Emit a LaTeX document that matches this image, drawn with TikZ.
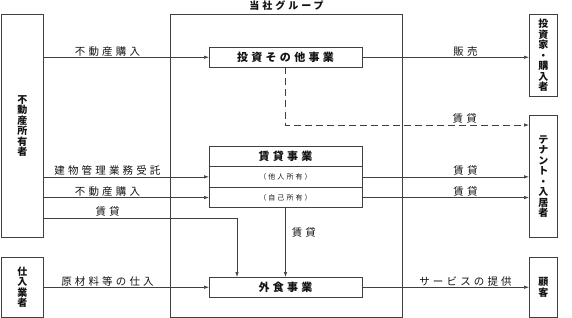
\documentclass[tikz,border=0pt]{standalone}
\usepackage{fontspec}
\setmainfont{Noto Sans CJK JP}
\newfontfamily\jpwide[LetterSpace=30]{Noto Sans CJK JP}
\usetikzlibrary{arrows.meta,calc,positioning}
\definecolor{framegrey}{RGB}{64,64,64}
\definecolor{inkblack}{RGB}{20,20,20}
\tikzset{
  party/.style={draw=framegrey,line width=0.9pt,anchor=north west,inner sep=0pt,
    minimum width=42pt,align=center,text=inkblack,
    font=\bfseries\fontsize{10}{10.5}\selectfont},
  bizbox/.style={draw=framegrey,line width=0.9pt,anchor=north west,inner sep=0pt,
    outer sep=0pt,minimum width=153pt,minimum height=20.5pt,text=inkblack,
    font=\jpwide\bfseries\fontsize{11}{12}\selectfont},
  subrow/.style={draw=framegrey,line width=0.9pt,inner sep=0pt,outer sep=0pt,
    minimum width=153pt,minimum height=20.7pt,text=inkblack,
    font=\jpwide\fontsize{7}{8}\selectfont},
  flow/.style={-{Latex[length=5pt,width=3.5pt]},line width=0.7pt,draw=framegrey},
  lease/.style={flow,dash pattern=on 7pt off 4pt},
  edgelabel/.style={font=\jpwide\fontsize{10.5}{11}\selectfont,text=inkblack,
    inner sep=1pt,above}
}

\begin{document}
\begin{tikzpicture}[x=1pt,y=-1pt,node distance=0pt]
  \useasboundingbox (0,0) rectangle (572,318);
  % the group and its businesses
  \node[draw=framegrey,line width=0.9pt,anchor=north west,minimum width=232pt,
    minimum height=303pt,label={[text=inkblack,font=\jpwide\bfseries\fontsize{10}{11}\selectfont]above:当社グループ}]
    (group) at (170,14) {};
  \node[bizbox] (invest) at (209,47) {投資その他事業};
  \node[bizbox] (rentalhead) at (209,146) {賃貸事業};
  \node[subrow,below=of rentalhead] (rentother) {（他人所有）};
  \node[subrow,below=of rentother] (rentown) {（自己所有）};
  \node[bizbox] (dining) at (209,277) {外食事業};
  % outside parties
  \node[party,minimum height=223pt] (owner) at (1,14) {不\\動\\産\\所\\有\\者};
  \node[party,minimum height=60pt] (supplier) at (1,257) {仕\\入\\業\\者};
  \node[party,minimum width=28pt,minimum height=82pt] (investor) at (529,14) {投\\資\\家\\・\\購\\入\\者};
  \node[party,minimum width=28pt,minimum height=122pt] (tenant) at (529,115) {テ\\ナ\\ン\\ト\\・\\入\\居\\者};
  \node[party,minimum width=28pt,minimum height=60pt] (customer) at (529,257) {顧\\客};
  \coordinate (leaseline) at (0,125);
  \coordinate (leaseturn) at (237,218);
  % flows
  \draw[flow] (owner.east |- invest.west) -- node[edgelabel,pos=0.385] {不動産購入} (invest.west);
  \draw[flow] (invest.east) -- node[edgelabel,pos=0.62] {販売} (investor.west |- invest.east);
  \draw[lease] (invest.south) |- node[edgelabel,pos=0.868] {賃貸} (tenant.west |- leaseline);
  \draw[flow] (owner.east |- rentother.west) -- node[edgelabel,pos=0.385] {建物管理業務受託} (rentother.west);
  \draw[flow] (owner.east |- rentown.west) -- node[edgelabel,pos=0.385] {不動産購入} (rentown.west);
  \draw[flow] (rentother.east) -- node[edgelabel,pos=0.62] {賃貸} (tenant.west |- rentother.east);
  \draw[flow] (rentown.east) -- node[edgelabel,pos=0.62] {賃貸} (tenant.west |- rentown.east);
  \draw[flow] (owner.east |- leaseturn) -| node[edgelabel,pos=0.165] {賃貸} (leaseturn |- dining.north);
  \draw[flow] (rentown.south) -- node[edgelabel,right=5pt,pos=0.36] {賃貸} (rentown.south |- dining.north);
  \draw[flow] (supplier.east |- dining.west) -- node[edgelabel,pos=0.385] {原材料等の仕入} (dining.west);
  \draw[flow] (dining.east) -- node[edgelabel,pos=0.62] {サービスの提供} (customer.west |- dining.east);
\end{tikzpicture}
\end{document}
